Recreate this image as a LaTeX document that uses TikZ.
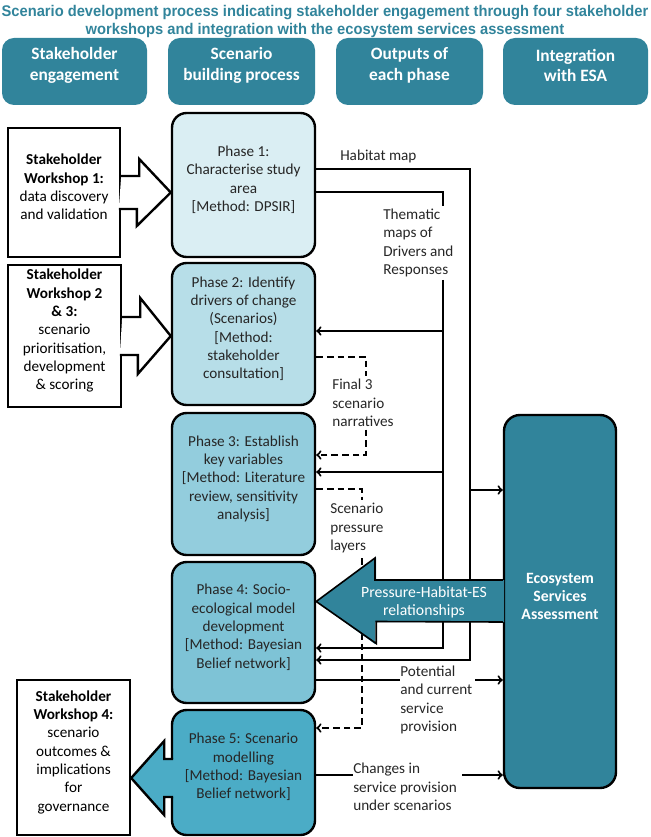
\documentclass[tikz,border=0pt]{standalone}
\usepackage{fontspec}
\setmainfont{Carlito}
\newfontfamily\titlefont[FakeStretch=0.95]{Liberation Sans}
\usepackage{tikz}
\usetikzlibrary{positioning,shapes,fit,arrows}
\definecolor{esateal}{HTML}{31849B}
\definecolor{phaseone}{HTML}{DAEEF3}
\definecolor{phasetwo}{HTML}{B7DEE8}
\definecolor{phasethree}{HTML}{93CDDD}
\definecolor{phasefour}{HTML}{7EC3D6}
\definecolor{phasefive}{HTML}{4BACC6}
\tikzset{
        >=to, % open arrow heads
        every node/.style={font=\fontsize{11.4}{13.75}\selectfont},
        header/.style={fill=esateal, rounded corners=9pt, inner sep=0pt, text=white, align=center, font=\fontsize{13}{15.5}\selectfont\bfseries}, % top row
        phase/.style={draw, line width=1.8pt, rounded corners=11pt, inner sep=0pt, align=center, text=black!85}, % scenario building boxes
        workshop/.style={draw, line width=1.8pt, fill=white, inner sep=0pt, align=center}, % stakeholder boxes
        output/.style={align=left, inner sep=0pt, anchor=west, text=black!85}, % output labels
        link/.style={line width=1.5pt},
        dashlink/.style={line width=1.5pt, dash pattern=on 5pt off 3pt},
        wsarrow/.style={line width=1.8pt, fill=white},
}
\begin{document}
\begin{tikzpicture}[x=0.75pt, y=-0.75pt]
\useasboundingbox (0,0) rectangle (650,837);

\node[align=center, text=esateal, font=\titlefont\fontsize{11.6}{13.6}\selectfont\bfseries] (title) at (325,21.5) {Scenario development process indicating stakeholder engagement through four stakeholder\\workshops and integration with the ecosystem services assessment};

% header row
\node[header, fit={(2,38) (147,105)}] (h1) {Stakeholder\\engagement};
\node[header, fit={(168,38) (315,105)}] (h2) {Scenario\\building process};
\node[header, fit={(336,38) (483,105)}] (h3) {Outputs of\\each phase};
\node[header, fit={(503,38) (648,105)}] (h4) {Integration\\with ESA};

% phases
\node[phase, fill=phaseone, fit={(172,113) (315,257)}] (p1) {Phase 1:\\Characterise study\\area\\{[Method: DPSIR]}};
\node[phase, fill=phasetwo, fit={(172,263) (315,405)}] (p2) {Phase 2: Identify\\drivers of change\\(Scenarios)\\{[Method:}\\stakeholder\\consultation]};
\node[phase, fill=phasethree, fit={(172,413) (315,555)}] (p3) {Phase 3: Establish\\key variables\\{[Method: Literature}\\review, sensitivity\\analysis]};
\node[phase, fill=phasefour, fit={(172,562) (315,703)}] (p4) {Phase 4: Socio-\\ecological model\\development\\{[Method: Bayesian}\\Belief network]};
\node[phase, fill=phasefive, fit={(172,710) (315,835)}] (p5) {Phase 5: Scenario\\modelling\\{[Method: Bayesian}\\Belief network]};

% stakeholder workshops
\node[workshop, fit={(8,128) (120,257)}] (w1) {{\bfseries Stakeholder}\\{\bfseries Workshop 1:}\\data discovery\\and validation};
\node[workshop, fit={(8,265) (121,407)}] (w2) {{\bfseries Stakeholder}\\{\bfseries Workshop 2}\\{\bfseries \& 3:}\\scenario\\prioritisation,\\development\\\& scoring};
\node[workshop, fit={(17,680) (130,835)}] (w4) {{\bfseries Stakeholder}\\{\bfseries Workshop 4:}\\scenario\\outcomes \&\\implications\\for\\governance};

% ecosystem services assessment
\node[draw, line width=1.8pt, fill=esateal, rounded corners=12pt, inner sep=0pt, align=center, text=white, font=\fontsize{11.8}{13.75}\selectfont\bfseries, fit={(504,415) (616,788)}] (esa) {Ecosystem\\Services\\Assessment};

% outputs
\node[output] (hab) at (340,156) {Habitat map};
\node[output] (thm) at (383,243) {Thematic\\maps of\\Drivers and\\Responses};
\node[output] (fin) at (332,403) {Final 3\\scenario\\narratives};
\node[output] (spl) at (330,528) {Scenario\\pressure\\layers};
\node[output] (pot) at (400,700) {Potential\\and current\\service\\provision};
\node[output] (chg) at (353,787) {Changes in\\service provision\\under scenarios};

\coordinate (hx) at (470,169); % habitat map lane
\coordinate (tx) at (443,192); % thematic maps lane
\coordinate (fx) at (366,357); % narratives lane
\coordinate (sx) at (362,489); % pressure layers lane

\draw[link,->] (p1.east |- hx) -- (hx) -- (hx |- 0,660) -- (p4.east |- 0,660);
\draw[link,->] (hx |- 0,490) -- (esa.west |- 0,490);
\draw[link] (p1.east |- tx) -- (tx) -- ([yshift=2pt]tx |- thm.north);
\draw[link,->] ([yshift=-2pt]tx |- thm.south) -- (tx |- 0,648) -- (p4.east |- 0,648);
\draw[link,->] (tx |- 0,331) -- (p2.east |- 0,331);
\draw[link,->] (tx |- 0,472) -- (p3.east |- 0,472);

\draw[dashlink] (p2.east |- fx) -- (fx) -- ([yshift=2pt]fx |- fin.north);
\draw[dashlink,->] ([yshift=-2pt]fx |- fin.south) -- (fx |- 0,455) -- (p3.east |- 0,455);
\draw[dashlink] (p3.east |- sx) -- (sx) -- ([yshift=2pt]sx |- spl.north);
\draw[dashlink,->] ([yshift=-4pt]sx |- spl.south) -- (sx |- 0,728) -- (p5.east |- 0,728);

\draw[link] (p4.east |- 0,680) -- (pot.west |- 0,680);
\draw[link,->] ([xshift=2pt]pot.east |- 0,680) -- (esa.west |- 0,680);
\draw[link] (p5.east |- 0,775) -- (chg.west |- 0,775);
\draw[link,->] ([xshift=4pt]chg.east |- 0,775) -- (esa.west |- 0,775);

% workshop arrows
\draw[wsarrow] (w1.east) ++(0,-16.5) -- ++(18,0) -- ++(0,-17) -- (p1.west |- w1.east) -- ++(-34,33.5) -- ++(0,-17) -- ++(-18,0);
\draw[wsarrow] (w2.east) ++(0,-19) -- ++(18,0) -- ++(0,-19) -- (p2.west |- w2.east) -- ++(-33,38) -- ++(0,-19) -- ++(-18,0);
\coordinate (ta) at (w4.east |- 0,778);
\fill[phasefive] (ta) -- ++(33,-37) -- ++(0,18) -- ++(13,0) -- ++(0,38) -- ++(-13,0) -- ++(0,18) -- cycle;
\draw[line width=1.8pt] (ta) ++(42,-19) -- ++(-9,0) -- ++(0,-18) -- (ta) -- ++(33,37) -- ++(0,-18) -- ++(9,0);

% pressure-habitat-ES arrow
\coordinate (tb) at (p4.east |- esa.west);
\fill[esateal] (tb) -- ++(60,-44) -- ++(0,22) -- ([xshift=1pt]esa.west |- 0,580) -- ([xshift=1pt]esa.west |- 0,622) -- (375,622) -- ++(0,22) -- cycle;
\draw[line width=1.2pt] (esa.west |- 0,580) -- (375,580) -- ++(0,-22) -- (tb) -- ++(60,42) -- ++(0,-22) -- (esa.west |- 0,622);
\node[align=center, text=white, font=\fontsize{11.8}{13.75}\selectfont] (phe) at (424,602) {Pressure-Habitat-ES\\relationships};

\end{tikzpicture}
\end{document}
